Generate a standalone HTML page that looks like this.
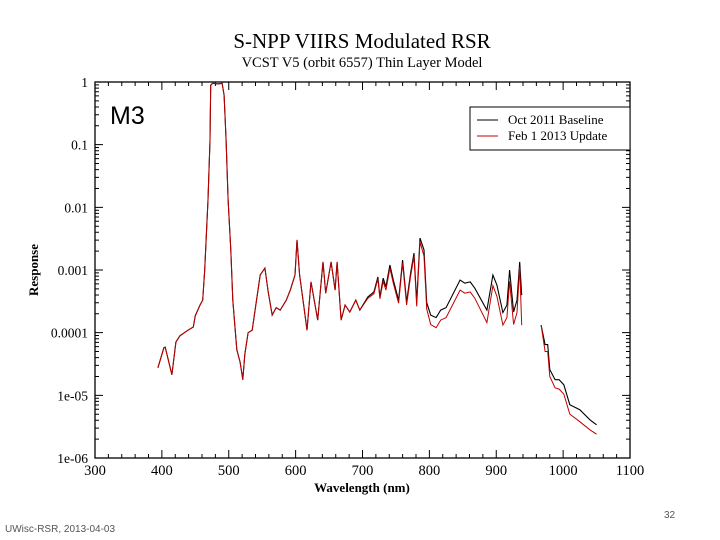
<!DOCTYPE html>
<html><head><meta charset="utf-8"><style>
body{margin:0;background:#fff;width:720px;height:540px;overflow:hidden}
svg{display:block}
.serif{font-family:"Liberation Serif",serif}
</style></head><body>
<svg id="chart" width="720" height="540">
<text class="serif" x="362" y="48" font-size="21" text-anchor="middle">S-NPP VIIRS Modulated RSR</text>
<text class="serif" x="362" y="67" font-size="14.5" text-anchor="middle">VCST V5 (orbit 6557) Thin Layer Model</text>
<text x="110" y="124" font-family="Liberation Sans,sans-serif" font-size="25">M3</text>
<text class="serif" x="362" y="492" font-size="13" font-weight="bold" text-anchor="middle">Wavelength (nm)</text>
<text class="serif" x="0" y="0" font-size="13" font-weight="bold" text-anchor="middle" transform="translate(38,270) rotate(-90)">Response</text>
<text x="5" y="532" font-family="Liberation Sans,sans-serif" font-size="10" fill="#555">UWisc-RSR, 2013-04-03</text>
<text x="664" y="518" font-family="Liberation Sans,sans-serif" font-size="10" fill="#555">32</text>
<g id="axes"></g>
<g id="series"></g>
<g>
<rect x="470" y="107" width="160" height="43" fill="#fff" stroke="#000" stroke-width="1"/>
<line x1="477" y1="120" x2="498" y2="120" stroke="#000"/>
<text class="serif" x="508" y="124" font-size="13">Oct 2011 Baseline</text>
<line x1="477" y1="136" x2="498" y2="136" stroke="#c00000"/>
<text class="serif" x="508" y="140" font-size="13">Feb 1 2013 Update</text>
</g>
</svg>
<script>
const wavelengths=[394,403,405,415,421,427,439,447,450,457,461,464,469,472,473,476,484,490,493,496,499,503,506,512,517,521,524,529,535,539,547,554,559,565,571,577,586,592,599,602,606,611,617,623,633,641,645,653,659,662,668,674,681,690,696,708,717,723,726,731,735,741,746,754,760,766,772,777,781,786,792,796,802,810,817,825,846,853,861,868,886,895,901,910,916,920,926,931,935,938,null,967,973,977,980,988,994,1001,1010,1025,1040,1050];
const baselineLog=[-4.56,-4.24,-4.23,-4.67,-4.15,-4.05,-3.96,-3.91,-3.73,-3.56,-3.48,-3.00,-1.88,-0.93,-0.05,-0.02,-0.03,-0.02,-0.21,-0.93,-1.88,-2.68,-3.48,-4.27,-4.47,-4.75,-4.35,-4.00,-3.96,-3.67,-3.08,-2.97,-3.35,-3.72,-3.60,-3.64,-3.48,-3.32,-3.08,-2.52,-3.08,-3.48,-3.96,-3.19,-3.80,-2.87,-3.37,-2.87,-3.32,-2.87,-3.80,-3.56,-3.67,-3.48,-3.64,-3.43,-3.35,-3.11,-3.43,-3.13,-3.27,-2.92,-3.16,-3.48,-2.84,-3.51,-3.05,-2.73,-3.51,-2.49,-2.68,-3.52,-3.72,-3.76,-3.64,-3.60,-3.16,-3.21,-3.19,-3.29,-3.64,-3.08,-3.24,-3.68,-3.56,-3.00,-3.67,-3.48,-2.87,-3.40,null,-3.88,-4.19,-4.19,-4.59,-4.75,-4.75,-4.83,-5.15,-5.23,-5.39,-5.47];
const updateLog=[-4.56,-4.24,-4.23,-4.67,-4.15,-4.05,-3.96,-3.91,-3.73,-3.56,-3.48,-3.00,-1.88,-0.93,-0.05,-0.02,-0.03,-0.02,-0.21,-0.93,-1.88,-2.68,-3.48,-4.27,-4.47,-4.75,-4.35,-4.00,-3.96,-3.67,-3.08,-2.97,-3.35,-3.72,-3.60,-3.64,-3.48,-3.32,-3.08,-2.52,-3.08,-3.48,-3.96,-3.19,-3.80,-2.87,-3.37,-2.87,-3.32,-2.87,-3.80,-3.56,-3.67,-3.48,-3.64,-3.45,-3.38,-3.14,-3.46,-3.18,-3.32,-2.97,-3.21,-3.53,-2.89,-3.56,-3.10,-2.78,-3.58,-2.55,-2.78,-3.62,-3.87,-3.92,-3.80,-3.76,-3.32,-3.37,-3.35,-3.45,-3.84,-3.25,-3.42,-3.88,-3.76,-3.18,-3.87,-3.68,-2.95,-3.88,null,-3.88,-4.30,-4.30,-4.70,-4.88,-4.90,-4.98,-5.30,-5.42,-5.55,-5.62];
const xTicks=[300,400,500,600,700,800,900,1000,1100];
const yTickLabels=["1","0.1","0.01","0.001","0.0001","1e-05","1e-06"];
const L=95,R=630,T=82,B=458;
const sx=w=>L+(w-300)/800*(R-L);
const sy=lg=>T+(-lg)/6*(B-T);
const NS='http://www.w3.org/2000/svg';
const ax=document.getElementById('axes');
function mk(tag,at,parent){const e=document.createElementNS(NS,tag);for(const k in at)e.setAttribute(k,at[k]);parent.appendChild(e);return e;}
const frame=mk('rect',{x:L,y:T,width:R-L,height:B-T,fill:'none',stroke:'#000','stroke-width':1.3},ax);


let d='';
for(let w=300;w<=1100;w+=20){const x=sx(w),len=(w%100===0)?8:4;d+=`M${x},${B}v${-len}M${x},${T}v${len}`;}
for(let e=0;e<6;e++){for(let m=1;m<=9;m++){const y=sy(-e-1+Math.log10(m));const len=m===1?8:4;d+=`M${L},${y}h${len}M${R},${y}h${-len}`;}}
d+=`M${L},${T}h8M${R},${T}h-8`;
const ticks=mk('path',{d:d,stroke:'#000','stroke-width':1,fill:'none'},ax);


xTicks.forEach(w=>{const t=mk('text',{x:sx(w),y:B+17,'font-size':14.5,'text-anchor':'middle','class':'serif'},ax);t.textContent=w;

});
yTickLabels.forEach((s,i)=>{const t=mk('text',{x:L-7,y:sy(-i)+5,'font-size':13.5,'text-anchor':'end','class':'serif'},ax);t.textContent=s;

});
function path(vals){let p='',pen=false;for(let i=0;i<wavelengths.length;i++){if(wavelengths[i]===null||vals[i]===null){pen=false;continue;}p+=(pen?'L':'M')+sx(wavelengths[i]).toFixed(1)+','+sy(vals[i]).toFixed(1);pen=true;}return p;}
const sg=document.getElementById('series');
const p1=mk('path',{d:path(baselineLog),stroke:'#000','stroke-width':1.1,fill:'none'},sg);


const p2=mk('path',{d:path(updateLog),stroke:'#c00000','stroke-width':1,fill:'none'},sg);


</script>
</body></html>
